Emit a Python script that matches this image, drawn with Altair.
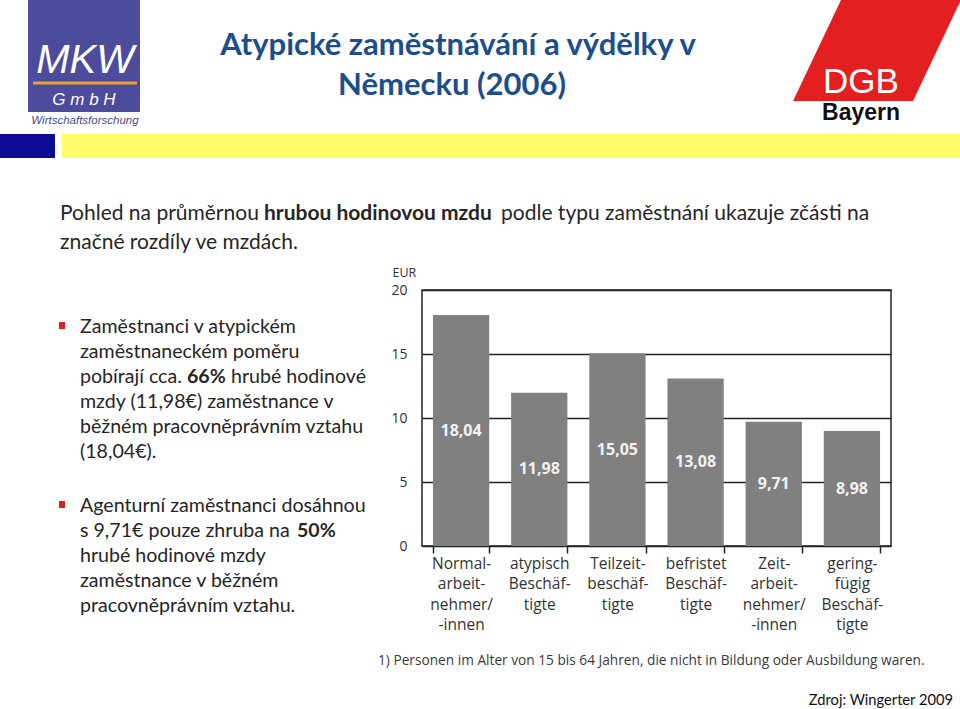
import altair as alt
import pandas as pd

# ---------------- data ----------------
categories = [
    "Normal-\narbeit-\nnehmer/\n-innen",
    "atypisch\nBeschäf-\ntigte",
    "Teilzeit-\nbeschäf-\ntigte",
    "befristet\nBeschäf-\ntigte",
    "Zeit-\narbeit-\nnehmer/\n-innen",
    "gering-\nfügig\nBeschäf-\ntigte",
]
wages = [18.04, 11.98, 15.05, 13.08, 9.71, 8.98]
wage_labels = ["18,04", "11,98", "15,05", "13,08", "9,71", "8,98"]
y_ticks = [0, 5, 10, 15, 20]

title_lines = ["Atypické zaměstnávání a  výdělky v", "Německu (2006)"]
intro_parts = ["Pohled na průměrnou", "hrubou hodinovou mzdu",
               "podle typu zaměstnání ukazuje zčásti na", "značné rozdíly ve mzdách."]
bullet1 = ["Zaměstnanci v atypickém", "zaměstnaneckém poměru", "pobírají cca.", "66%",
           "hrubé hodinové", "mzdy (11,98€) zaměstnance v", "běžném pracovněprávním vztahu",
           "(18,04€)."]
bullet2 = ["Agenturní zaměstnanci dosáhnou", "s 9,71€ pouze zhruba na", "50%",
           "hrubé hodinové mzdy", "zaměstnance v běžném", "pracovněprávním vztahu."]
footnote = "1) Personen im Alter von 15 bis 64 Jahren, die nicht in Bildung oder Ausbildung waren."
source = "Zdroj: Wingerter 2009"
logo_texts = ["MKW", "G   m   b   H", "Wirtschaftsforschung", "DGB", "Bayern"]

# ---------------- layout ----------------
OX, OY = 422, 290      # plot origin on the page
PW, PH = 469, 256      # plot size
one = pd.DataFrame({"k": [0]})


def txt(s, x, y, size, color="#262626", weight="normal", font="Lato",
        align="left", italic=False, baseline="alphabetic"):
    return alt.Chart(one).mark_text(
        text=s, fontSize=size, font=font, fontWeight=weight,
        fontStyle="italic" if italic else "normal", color=color,
        align=align, baseline=baseline,
    ).encode(x=alt.value(x - OX), y=alt.value(y - OY))


def rect(x1, y1, x2, y2, color):
    return alt.Chart(one).mark_rect(color=color).encode(
        x=alt.value(x1 - OX), x2=alt.value(x2 - OX),
        y=alt.value(y1 - OY), y2=alt.value(y2 - OY))


df = pd.DataFrame({"kat": categories, "mzda": wages, "popis": wage_labels})

x_axis = alt.Axis(
    title=None, labelExpr="split(datum.label, '\\n')", labelAngle=0,
    labelFontSize=15.5, labelLineHeight=20.5, labelColor="#333333",
    labelFont="Open Sans", labelPadding=3, tickBand="extent", tickSize=7,
    tickColor="#222222", tickWidth=1.5, domain=False, labelBaseline="top",
)
y_axis = alt.Axis(
    values=y_ticks, title="EUR", titleAngle=0, titleX=-30, titleY=-14,
    titleAlign="left", titleBaseline="alphabetic", titleFont="Open Sans",
    titleFontSize=12.5, titleFontWeight="normal", titleColor="#333333",
    grid=True, gridColor="#222222", gridWidth=1.5, ticks=False, domain=False,
    labelPadding=15, labelFontSize=14, labelFont="Open Sans", labelColor="#333333",
)
x_scale = alt.Scale(paddingInner=0.28, paddingOuter=0.14)
y_scale = alt.Scale(domain=[0, 20], nice=False)

bars = alt.Chart(df).mark_bar(color="#808080").encode(
    x=alt.X("kat:N", sort=None, scale=x_scale, axis=x_axis),
    y=alt.Y("mzda:Q", scale=y_scale, axis=y_axis),
)
values = alt.Chart(df).transform_calculate(stred="datum.mzda / 2").mark_text(
    font="Open Sans", fontSize=16, fontWeight="bold", color="#f2f2f2",
    baseline="middle", align="center",
).encode(
    x=alt.X("kat:N", sort=None, scale=x_scale, axis=x_axis),
    y=alt.Y("stred:Q", scale=y_scale, axis=y_axis),
    text="popis:N",
)

deco = []
# MKW logo
deco.append(rect(28, 0, 140, 112, "#4d4b9c"))
deco.append(txt(logo_texts[0], 85, 73, 40, color="white", font="Liberation Sans",
                align="center", italic=True))
deco.append(alt.Chart(one).mark_rule(color="#e8a030", strokeWidth=3).encode(
    x=alt.value(33 - OX), x2=alt.value(137 - OX), y=alt.value(83 - OY)))
deco.append(txt(logo_texts[1], 84, 105, 17, color="white", font="Liberation Sans",
                align="center", italic=True))
deco.append(txt(logo_texts[2], 85, 124, 11.5, color="#4a4a8c", font="Liberation Sans",
                align="center", italic=True))
# colour band
deco.append(rect(0, 134, 55, 158, "#0a0a92"))
deco.append(rect(62, 134, 960, 158, "#fffc6a"))
# DGB logo
deco.append(alt.Chart(one).mark_point(
    shape="M -36 -50.5 L 84 -50.5 L 36 50.5 L -84 50.5 Z", size=4, filled=True,
    color="#e3201f", opacity=1, strokeWidth=0,
).encode(x=alt.value(877 - OX), y=alt.value(50.5 - OY)))
deco.append(txt(logo_texts[3], 861, 93, 35, color="white", font="Liberation Sans",
                align="center"))
deco.append(txt(logo_texts[4], 861, 120, 23, color="#111111", font="Liberation Sans",
                align="center", weight="bold"))
# title
deco.append(txt(title_lines[0], 458, 55, 31, color="#1c4e8c", weight="bold", align="center"))
deco.append(txt(title_lines[1], 452, 95, 31, color="#1c4e8c", weight="bold", align="center"))
# intro
isz = 21
deco.append(txt(intro_parts[0], 60, 220, isz))
deco.append(txt(intro_parts[1], 264, 220, isz, weight="bold"))
deco.append(txt(intro_parts[2], 501, 220, isz))
deco.append(txt(intro_parts[3], 60, 249, isz))
# bullets
deco.append(rect(59, 322, 65, 329, "#e0201c"))
deco.append(rect(59, 501, 65, 508, "#e0201c"))
bx = 80
bsz = 19.6
deco.append(txt(bullet1[0], bx, 333, bsz))
deco.append(txt(bullet1[1], bx, 358, bsz))
deco.append(txt(bullet1[2], bx, 383, bsz))
deco.append(txt(bullet1[3], 187, 383, bsz, weight="bold"))
deco.append(txt(bullet1[4], 231, 383, bsz))
deco.append(txt(bullet1[5], bx, 408, bsz))
deco.append(txt(bullet1[6], bx, 433, bsz))
deco.append(txt(bullet1[7], bx, 458, bsz))
deco.append(txt(bullet2[0], bx, 512, bsz))
deco.append(txt(bullet2[1], bx, 537, bsz))
deco.append(txt(bullet2[2], 297, 537, bsz, weight="bold"))
deco.append(txt(bullet2[3], bx, 562, bsz))
deco.append(txt(bullet2[4], bx, 587, bsz))
deco.append(txt(bullet2[5], bx, 612, bsz))
# footnote & source
deco.append(txt(footnote, 378, 665, 13.7, color="#3a3a3a", font="Open Sans"))
deco.append(txt(source, 953, 705, 14.7, color="#111111", align="right"))

chart = alt.layer(bars, values, *deco).properties(
    width=PW, height=PH,
    padding={"left": OX, "top": OY, "right": 960 - OX - PW, "bottom": 709 - OY - PH},
    autosize=alt.AutoSizeParams(type="none"),
    background="white",
).configure_view(stroke="#222222", strokeWidth=1.5)

chart.save("out.html", embed_options={"renderer": "svg", "actions": False})
